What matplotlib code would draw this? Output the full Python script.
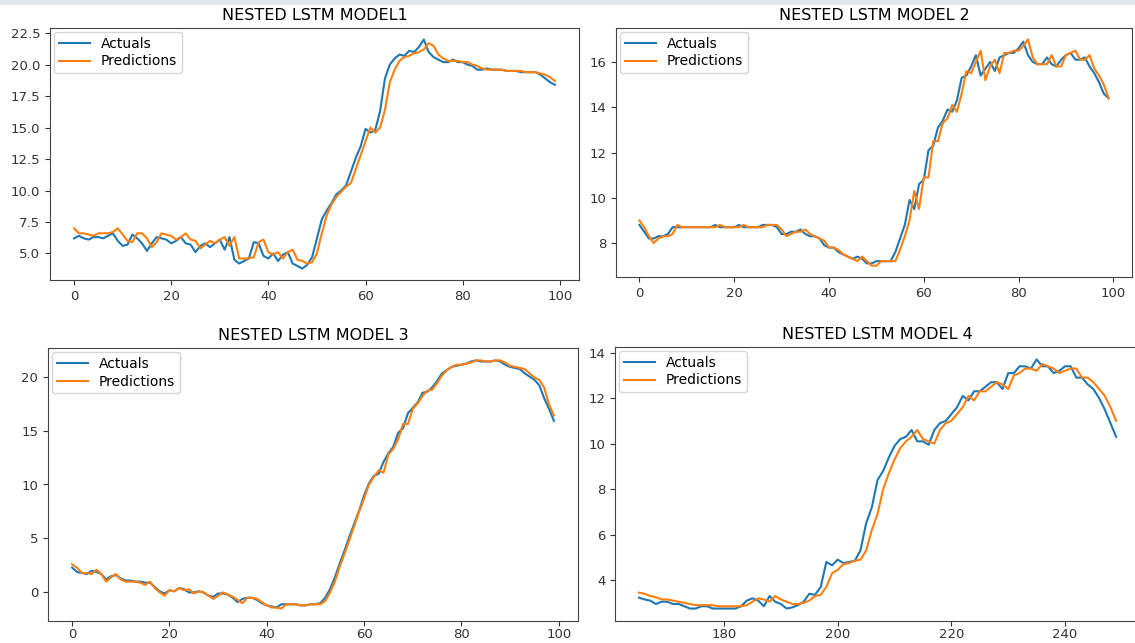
import numpy as np
import matplotlib
matplotlib.use("Agg")
import matplotlib.pyplot as plt
from matplotlib.patches import Rectangle

# model 1
x1 = list(range(100))
act1 = [6.2, 6.4, 6.2, 6.1, 6.3, 6.3, 6.2, 6.4, 6.6, 6.0,
        5.6, 5.7, 6.5, 6.2, 5.8, 5.2, 5.8, 6.3, 6.2, 6.1,
        5.8, 6.0, 6.3, 5.8, 5.7, 5.1, 5.6, 5.8, 5.5, 5.8,
        6.1, 5.3, 6.3, 4.5, 4.2, 4.4, 4.6, 5.9, 5.8, 4.8,
        4.6, 5.0, 4.4, 4.9, 5.1, 4.2, 4.0, 3.8, 4.1, 4.7,
        6.2, 7.7, 8.4, 9.0, 9.7, 10.0, 10.4, 11.5, 12.6, 13.5,
        14.9, 14.6, 14.8, 16.3, 18.9, 20.0, 20.5, 20.8, 20.7, 21.1,
        21.0, 21.4, 22.0, 21.0, 20.6, 20.4, 20.2, 20.2, 20.4, 20.2,
        20.2, 20.0, 19.9, 19.6, 19.6, 19.7, 19.6, 19.6, 19.6, 19.5,
        19.5, 19.5, 19.4, 19.4, 19.4, 19.4, 19.2, 18.9, 18.6, 18.4]
pred1 = [7.0, 6.6, 6.6, 6.5, 6.4, 6.6, 6.6, 6.6, 6.7, 7.0,
         6.5, 6.0, 5.9, 6.6, 6.6, 6.2, 5.5, 5.9, 6.6, 6.5,
         6.4, 6.1, 6.3, 6.6, 6.1, 6.0, 5.4, 5.7, 6.0, 5.8,
         6.1, 6.3, 5.6, 6.3, 4.6, 4.6, 4.6, 4.7, 5.9, 6.1,
         5.1, 4.9, 5.1, 4.6, 5.1, 5.3, 4.5, 4.4, 4.2, 4.3,
         5.0, 6.6, 8.0, 8.9, 9.5, 9.9, 10.3, 10.6, 11.7, 12.8,
         13.9, 15.0, 14.6, 15.0, 16.4, 18.6, 19.6, 20.3, 20.6, 20.7,
         20.9, 21.0, 21.2, 21.7, 21.5, 20.8, 20.5, 20.3, 20.3, 20.3,
         20.2, 20.2, 20.0, 19.9, 19.7, 19.6, 19.6, 19.6, 19.6, 19.5,
         19.5, 19.5, 19.5, 19.4, 19.4, 19.4, 19.3, 19.2, 19.0, 18.7]

# model 2
x2 = list(range(100))
act2 = [8.8, 8.5, 8.2, 8.2, 8.3, 8.3, 8.4, 8.7, 8.7, 8.7,
        8.7, 8.7, 8.7, 8.7, 8.7, 8.7, 8.8, 8.7, 8.7, 8.7,
        8.7, 8.8, 8.7, 8.7, 8.7, 8.7, 8.8, 8.8, 8.8, 8.7,
        8.4, 8.4, 8.5, 8.5, 8.6, 8.4, 8.3, 8.3, 8.2, 7.9,
        7.8, 7.8, 7.6, 7.5, 7.4, 7.3, 7.4, 7.3, 7.1, 7.1,
        7.2, 7.2, 7.2, 7.2, 7.6, 8.2, 8.8, 9.9, 9.5, 10.6,
        10.8, 12.1, 12.3, 13.1, 13.4, 13.9, 13.8, 14.3, 15.3, 15.4,
        15.8, 16.3, 15.4, 15.7, 16.0, 15.6, 16.2, 16.3, 16.4, 16.4,
        16.6, 16.9, 16.3, 16.0, 15.9, 15.9, 16.2, 15.9, 15.8, 16.1,
        16.3, 16.4, 16.1, 16.1, 16.2, 15.8, 15.5, 15.1, 14.6, 14.4]
pred2 = [9.0, 8.7, 8.3, 8.0, 8.2, 8.3, 8.3, 8.4, 8.8, 8.7,
         8.7, 8.7, 8.7, 8.7, 8.7, 8.7, 8.7, 8.8, 8.7, 8.7,
         8.7, 8.7, 8.8, 8.7, 8.7, 8.7, 8.7, 8.8, 8.8, 8.8,
         8.6, 8.3, 8.4, 8.5, 8.5, 8.6, 8.4, 8.3, 8.2, 8.1,
         7.8, 7.8, 7.7, 7.5, 7.4, 7.3, 7.2, 7.4, 7.2, 7.0,
         7.0, 7.2, 7.2, 7.2, 7.2, 7.7, 8.3, 9.0, 10.3, 9.5,
         10.9, 10.9, 12.5, 12.5, 13.3, 13.5, 14.1, 13.8, 14.6, 15.6,
         15.5, 16.0, 16.5, 15.2, 15.8, 16.1, 15.5, 16.4, 16.4, 16.5,
         16.5, 16.7, 17.0, 16.2, 15.9, 15.9, 15.9, 16.3, 15.8, 15.8,
         16.3, 16.4, 16.5, 16.1, 16.1, 16.3, 15.7, 15.4, 15.0, 14.4]

# model 3
x3 = list(range(100))
act3 = [2.3, 1.9, 1.8, 1.7, 2.0, 1.9, 1.7, 1.2, 1.5, 1.6,
        1.3, 1.1, 1.1, 1.0, 1.0, 0.9, 0.9, 0.5, 0.1, -0.1,
        0.2, 0.1, 0.4, 0.3, 0.0, 0.0, 0.1, 0.0, -0.3, -0.4,
        -0.1, -0.1, -0.2, -0.5, -0.9, -0.6, -0.5, -0.5, -0.7, -1.0,
        -1.2, -1.3, -1.4, -1.1, -1.1, -1.1, -1.1, -1.2, -1.2, -1.1,
        -1.1, -1.0, -0.5, 0.3, 1.4, 2.7, 3.9, 5.2, 6.4, 7.6,
        9.0, 10.1, 10.8, 11.0, 12.1, 12.9, 13.5, 14.8, 15.2, 16.6,
        17.1, 17.6, 18.5, 18.6, 19.0, 19.6, 20.3, 20.6, 20.9, 21.0,
        21.1, 21.2, 21.4, 21.5, 21.4, 21.4, 21.4, 21.5, 21.4, 21.1,
        20.9, 20.8, 20.7, 20.3, 20.0, 19.7, 19.2, 18.0, 17.0, 15.9]
pred3 = [2.6, 2.3, 1.8, 1.8, 1.7, 2.1, 1.7, 1.0, 1.4, 1.7,
         1.2, 1.0, 1.0, 1.0, 0.9, 0.7, 1.0, 0.4, 0.0, -0.3,
         0.2, 0.1, 0.4, 0.2, 0.3, -0.1, 0.1, 0.0, -0.3, -0.6,
         -0.3, 0.0, -0.2, -0.4, -0.7, -1.0, -0.5, -0.5, -0.6, -0.9,
         -1.2, -1.4, -1.4, -1.5, -1.1, -1.1, -1.1, -1.2, -1.2, -1.1,
         -1.1, -1.1, -0.8, 0.0, 1.0, 2.4, 3.6, 4.9, 6.2, 7.5,
         8.7, 10.0, 10.7, 11.3, 11.1, 12.8, 13.3, 14.2, 15.6, 15.6,
         17.0, 17.5, 18.2, 18.7, 18.8, 19.4, 20.1, 20.6, 20.9, 21.1,
         21.1, 21.2, 21.3, 21.5, 21.5, 21.4, 21.4, 21.5, 21.5, 21.3,
         21.0, 20.9, 20.8, 20.7, 20.3, 19.9, 19.7, 19.0, 17.4, 16.4]

# model 4
x4 = list(range(165, 250))
act4 = [3.23, 3.15, 3.1, 2.95, 3.05, 3.05, 2.95, 2.95, 2.85, 2.75,
        2.75, 2.85, 2.85, 2.75, 2.75, 2.75, 2.75, 2.75, 2.85, 3.1,
        3.2, 3.1, 2.85, 3.3, 3.05, 2.95, 2.75, 2.8, 2.9, 3.05,
        3.4, 3.35, 3.7, 4.8, 4.65, 4.9, 4.75, 4.8, 4.85, 5.3,
        6.5, 7.2, 8.4, 8.8, 9.4, 9.9, 10.2, 10.3, 10.6, 10.1,
        10.1, 9.95, 10.6, 10.9, 11.0, 11.3, 11.6, 12.1, 11.9, 12.3,
        12.3, 12.5, 12.7, 12.7, 12.4, 13.1, 13.1, 13.4, 13.4, 13.3,
        13.7, 13.4, 13.4, 13.1, 13.2, 13.4, 13.4, 12.9, 12.9, 12.6,
        12.4, 12.0, 11.5, 10.9, 10.3]
pred4 = [3.45, 3.4, 3.3, 3.25, 3.15, 3.15, 3.1, 3.05, 3.0, 2.95,
         2.9, 2.9, 2.9, 2.9, 2.85, 2.85, 2.85, 2.85, 2.85, 2.9,
         3.05, 3.2, 3.15, 3.05, 3.3, 3.15, 3.05, 2.95, 2.95, 3.0,
         3.1, 3.3, 3.35, 3.7, 4.3, 4.45, 4.7, 4.75, 4.85, 4.9,
         5.3, 6.2, 6.9, 8.0, 8.7, 9.3, 9.8, 10.1, 10.3, 10.6,
         10.2, 10.1, 10.0, 10.6, 10.9, 11.0, 11.3, 11.6, 12.1, 11.9,
         12.3, 12.3, 12.5, 12.7, 12.6, 12.4, 13.0, 13.1, 13.3, 13.3,
         13.2, 13.5, 13.4, 13.3, 13.1, 13.2, 13.3, 13.3, 12.9, 12.9,
         12.7, 12.4, 12.1, 11.6, 11.0]

titulos = ["NESTED LSTM MODEL1", "NESTED LSTM MODEL 2",
           "NESTED LSTM MODEL 3", "NESTED LSTM MODEL 4"]
series = [(x1, act1, pred1), (x2, act2, pred2), (x3, act3, pred3), (x4, act4, pred4)]

W, H = 1135, 643
# left, top, right, bottom in pixels
cajas = [(50, 28, 579, 280), (616, 28, 1132, 277),
         (48, 348, 578, 621), (615, 347, 1140, 621)]

fig = plt.figure(figsize=(W / 100, H / 100), dpi=100)
fig.add_artist(Rectangle((0, 1 - 5 / H), 1, 5 / H, transform=fig.transFigure,
                         facecolor="#e3e6ea", edgecolor="none"))

for i, ((x, a, p), t, (l, tp, r, b)) in enumerate(zip(series, titulos, cajas)):
    ax = fig.add_axes([l / W, 1 - b / H, (r - l) / W, (b - tp) / H])
    ax.plot(x, a, label="Actuals")
    ax.plot(x, p, label="Predictions")
    ax.set_title(t, fontsize=11.5)
    ax.legend(loc="upper left", labelspacing=0.25, borderpad=0.35,
              borderaxespad=0.3, handlelength=2.2)
    for s in ax.spines.values():
        s.set_color("#444444")
    ax.tick_params(labelsize=9.5, colors="#333333")
    if i >= 2:
        ax.tick_params(axis="x", pad=1.5)

fig.savefig("out.png", dpi=100)
